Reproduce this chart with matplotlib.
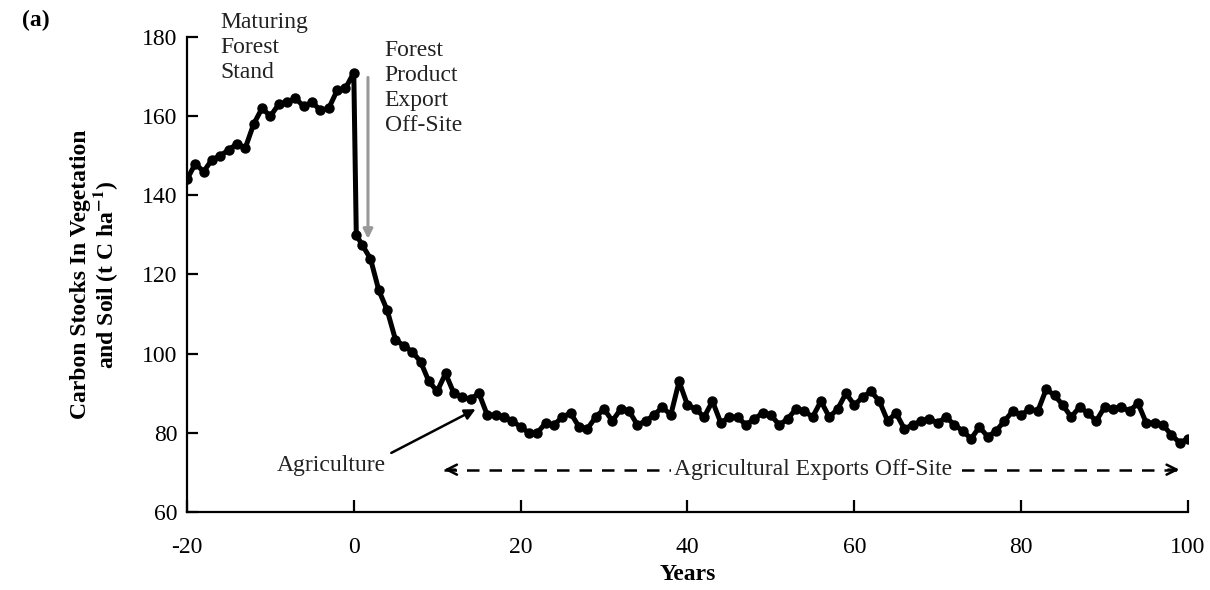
import matplotlib
matplotlib.use("Agg")
import matplotlib.pyplot as plt

plt.rcParams['font.family'] = ['Liberation Serif', 'DejaVu Serif']
plt.rcParams['mathtext.fontset'] = 'stix'
plt.rcParams['axes.unicode_minus'] = False

# annual carbon stock (t C / ha); harvest at year 0 drops the stand to ~130
years = list(range(-20, 1)) + [0.3] + list(range(1, 101))
carbon = [
    144, 148, 146, 149, 150, 151.5, 153, 152, 158, 162,
    160, 163, 163.5, 164.5, 162.5, 163.5, 161.5, 162, 166.5, 167,
    171,
    130,
    127.5, 124, 116, 111, 103.5, 102, 100.5, 98, 93, 90.5,
    95, 90, 89, 88.5, 90, 84.5, 84.5, 84, 83, 81.5,
    80, 80, 82.5, 82, 84, 85, 81.5, 81, 84, 86,
    83, 86, 85.5, 82, 83, 84.5, 86.5, 84.5, 93, 87,
    86, 84, 88, 82.5, 84, 84, 82, 83.5, 85, 84.5,
    82, 83.5, 86, 85.5, 84, 88, 84, 86, 90, 87,
    89, 90.5, 88, 83, 85, 81, 82, 83, 83.5, 82.5,
    84, 82, 80.5, 78.5, 81.5, 79, 80.5, 83, 85.5, 84.5,
    86, 85.5, 91, 89.5, 87, 84, 86.5, 85, 83, 86.5,
    86, 86.5, 85.5, 87.5, 82.5, 82.5, 82, 79.5, 77.5, 78.5,
]

x_ticks = [-20, 0, 20, 40, 60, 80, 100]
y_ticks = [60, 80, 100, 120, 140, 160, 180]

fs = 17

fig = plt.figure(figsize=(12.1, 5.9), dpi=100)
ax = fig.add_axes([0.1545, 0.1322, 0.8273, 0.8051])

ax.plot(years, carbon, color='black', lw=3.6, marker='o', ms=6.5,
        solid_joinstyle='round', zorder=3)

ax.set_xlim(-20, 100)
ax.set_ylim(60, 180)
ax.set_xticks(x_ticks)
ax.set_yticks(y_ticks)
for s in ['top', 'right']:
    ax.spines[s].set_visible(False)
for s in ['left', 'bottom']:
    ax.spines[s].set_linewidth(1.6)
ax.tick_params(axis='both', direction='in', width=1.6, labelsize=fs)
ax.tick_params(axis='x', length=9, pad=18)
ax.tick_params(axis='y', length=8, pad=7)

ax.set_xlabel('Years', fontsize=fs, fontweight='bold', labelpad=4)
ax.set_ylabel('Carbon Stocks In Vegetation\nand Soil (t C ha$^{\\mathbf{-1}}$)',
              fontsize=fs, fontweight='bold', labelpad=16, linespacing=1.0)

fig.text(0.018, 0.965, '(a)', fontsize=fs, fontweight='bold', va='center')

# annotations
ax.text(-16, 186.3, 'Maturing\nForest\nStand', fontsize=fs, va='top',
        color='#222222', linespacing=1.25, clip_on=False)
ax.text(3.7, 179.2, 'Forest\nProduct\nExport\nOff-Site', fontsize=fs, va='top',
        color='#222222', linespacing=1.25, clip_on=False)
ax.annotate('', xy=(1.7, 128.3), xytext=(1.7, 170.5),
            arrowprops=dict(arrowstyle='-|>', color='#999999', lw=2.2,
                            mutation_scale=14))

ax.text(-9.2, 71.8, 'Agriculture', fontsize=fs, va='center', color='#222222')
ax.annotate('', xy=(14.9, 86.3), xytext=(4.2, 74.6),
            arrowprops=dict(arrowstyle='-|>', color='black', lw=1.8,
                            mutation_scale=16))

# dashed span with solid open heads at both ends
y_span = 70.7
ax.plot([10.8, 99], [y_span, y_span], color='black', lw=1.8,
        dashes=(5, 4))
ax.annotate('', xy=(10.5, y_span), xytext=(12.5, y_span),
            arrowprops=dict(arrowstyle='->', color='black', lw=1.8,
                            mutation_scale=18))
ax.annotate('', xy=(99.3, y_span), xytext=(97.3, y_span),
            arrowprops=dict(arrowstyle='->', color='black', lw=1.8,
                            mutation_scale=18))
ax.text(55, y_span, 'Agricultural Exports Off-Site', fontsize=fs, ha='center',
        va='center', color='#222222', zorder=4,
        bbox=dict(facecolor='white', edgecolor='none', pad=2))

fig.savefig('out.png', dpi=100)
